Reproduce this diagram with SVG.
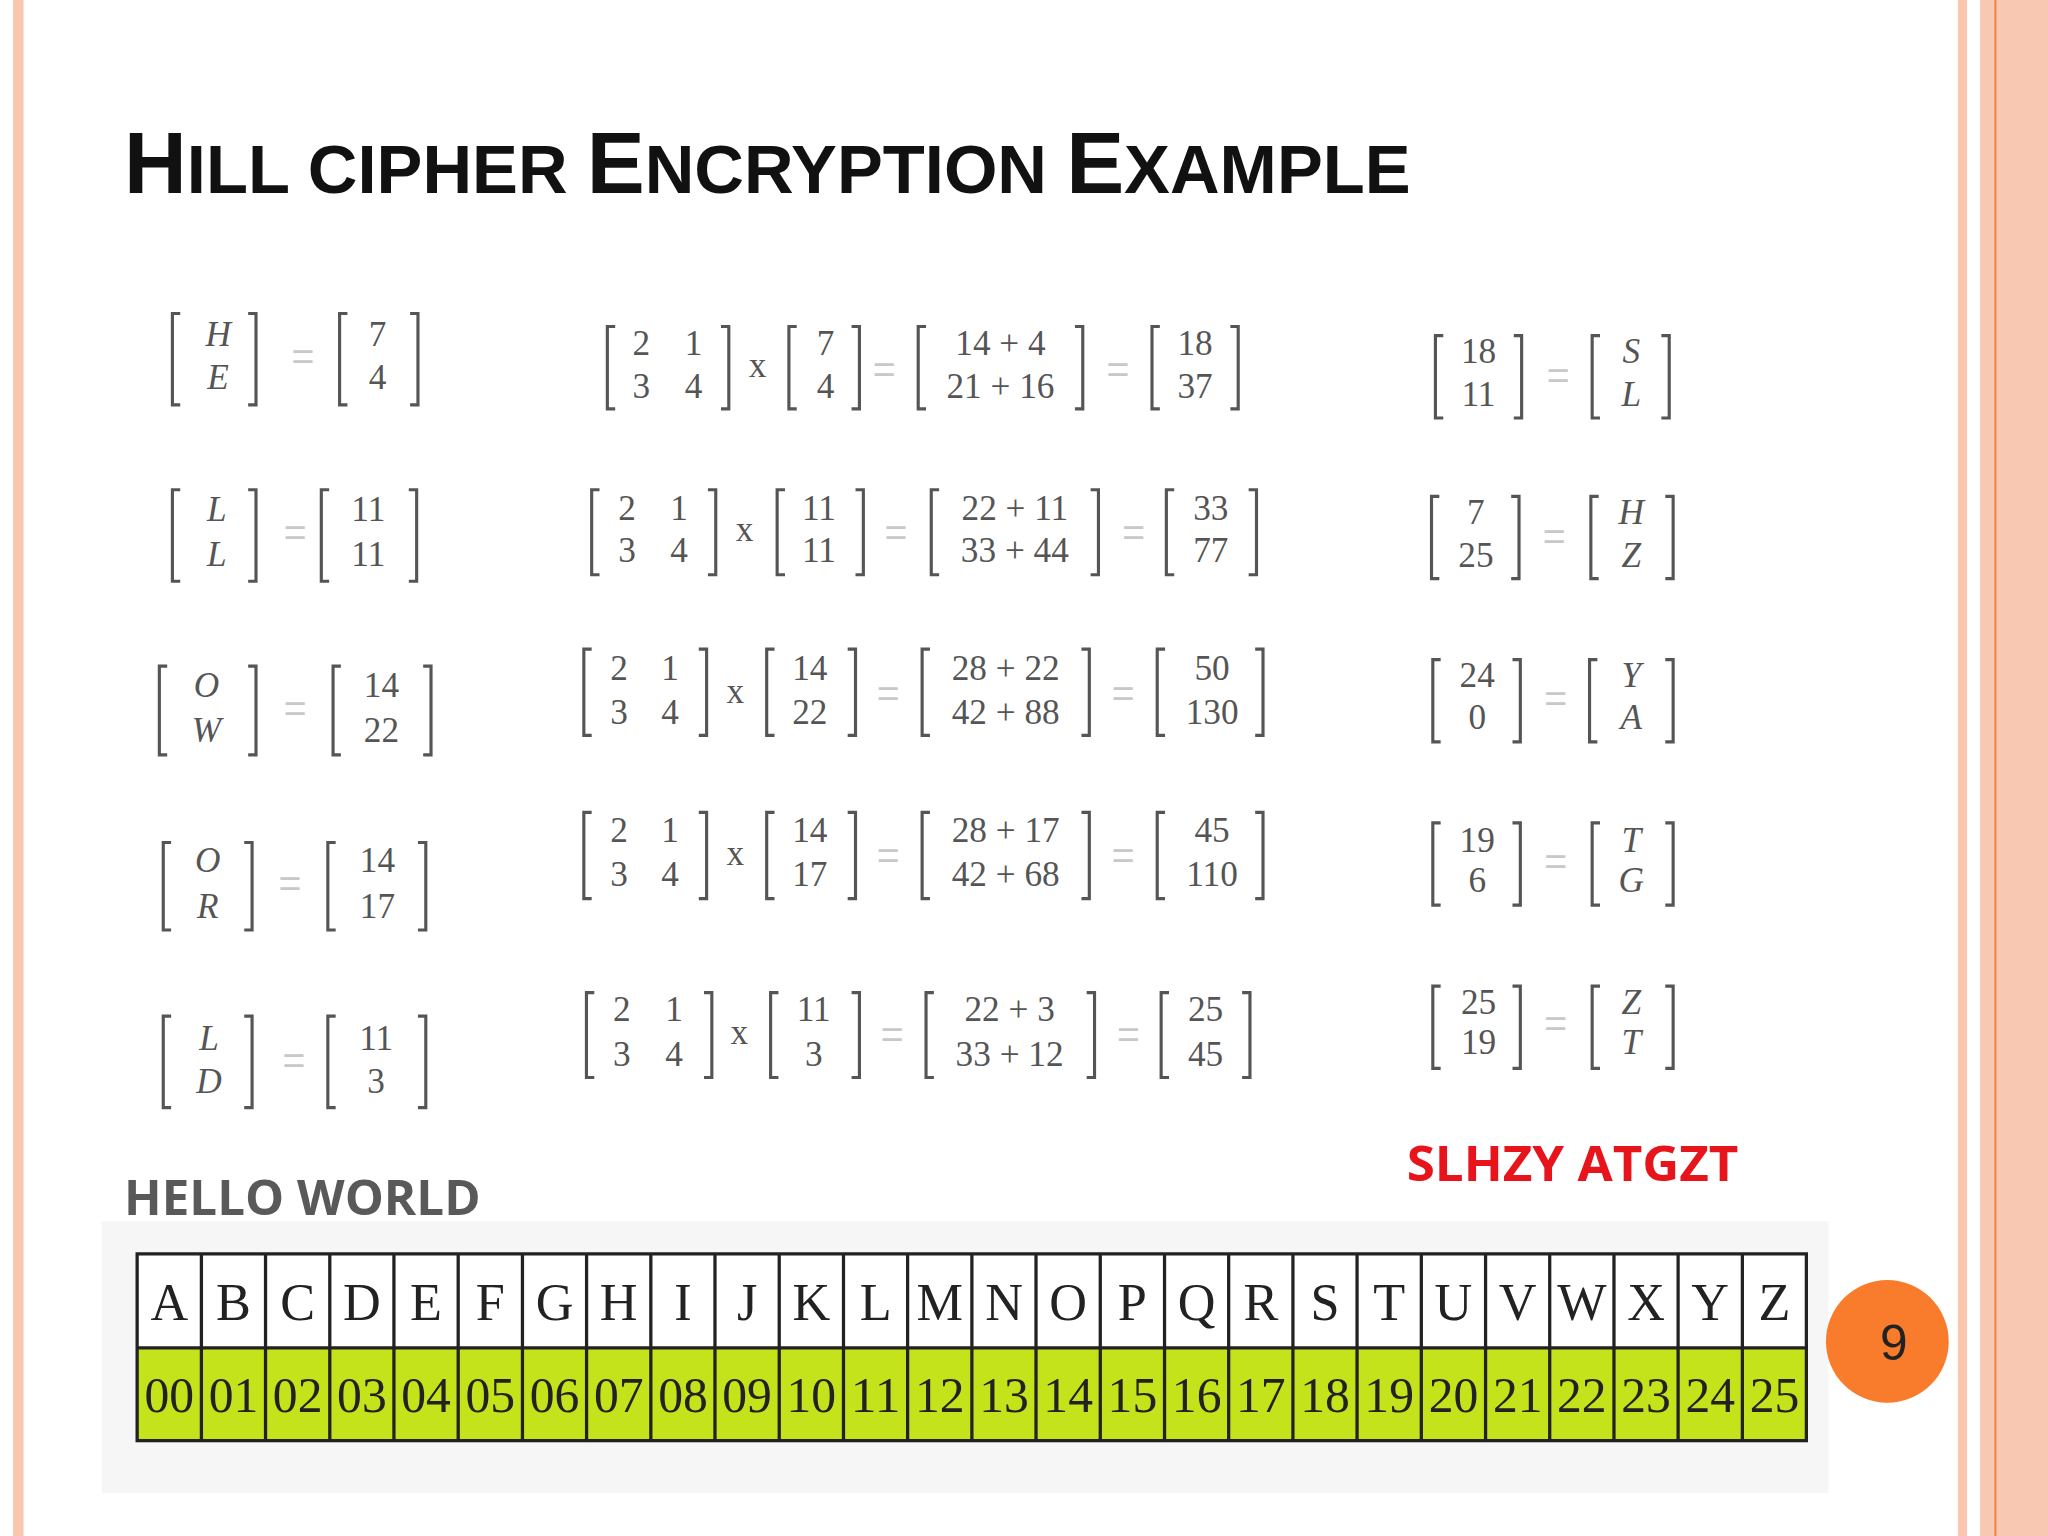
<svg xmlns="http://www.w3.org/2000/svg" width="2048" height="1536" viewBox="0 0 2048 1536">
<style>
.br{fill:none;stroke:#555;stroke-width:2.4}
.m{font-family:"Liberation Serif",serif;font-size:27px;fill:#555;text-anchor:middle}
.i{font-style:italic}
.eq{font-family:"Liberation Sans",sans-serif;font-size:30px;fill:#c8c8c8;text-anchor:middle}
.t{font-family:"Liberation Serif",serif;font-size:40px;fill:#222;text-anchor:middle}
.n{font-family:"Liberation Serif",serif;font-size:38px;fill:#222;text-anchor:middle}
</style>
<rect width="2048" height="1536" fill="#fff"/>
<g transform="scale(1.30612)">
<g id="borders">
<rect x="10" y="0" width="8" height="1176" fill="#f9c6b0"/>
<rect x="1499" y="0" width="7" height="1176" fill="#f9c6b0"/>
<rect x="1516" y="0" width="52" height="1176" fill="#f9c8b2"/>
<rect x="1527" y="0" width="1.5" height="1176" fill="#ee8040"/>
</g>
<g id="title" font-family="Liberation Sans, sans-serif" font-weight="bold" fill="#111">
<text x="95" y="148" font-size="67" textLength="985" lengthAdjust="spacingAndGlyphs">H<tspan font-size="53">ILL CIPHER </tspan>E<tspan font-size="53">NCRYPTION </tspan>E<tspan font-size="53">XAMPLE</tspan></text>
</g>
<g id="matrices">
<!-- row1 -->
<path class="br" d="M138 240H132V310H138M190 240H196V310H190M266 240H260V310H266M314 240H320V310H314"/>
<text class="m i" x="167" y="265">H</text><text class="m i" x="167" y="298">E</text>
<text class="eq" x="232" y="283">=</text>
<text class="m" x="289" y="265">7</text><text class="m" x="289" y="298">4</text>
<path class="br" d="M471 250H465V313H471M552 250H558V313H552M610 250H604V313H610M652 250H658V313H652M709 250H703V313H709M823 250H829V313H823M888 250H882V313H888M942 250H948V313H942"/>
<text class="m" x="491" y="272">2</text><text class="m" x="531" y="272">1</text><text class="m" x="491" y="305">3</text><text class="m" x="531" y="305">4</text>
<text class="m" x="580" y="289" font-size="22">x</text>
<text class="m" x="632" y="272">7</text><text class="m" x="632" y="305">4</text>
<text class="eq" x="677" y="293">=</text>
<text class="m" x="766" y="272">14 + 4</text><text class="m" x="766" y="305">21 + 16</text>
<text class="eq" x="856" y="293">=</text>
<text class="m" x="915" y="272">18</text><text class="m" x="915" y="305">37</text>
<path class="br" d="M1105 257H1099V320H1105M1159 257H1165V320H1159M1225 257H1219V320H1225M1272 257H1278V320H1272"/>
<text class="m" x="1132" y="278">18</text><text class="m" x="1132" y="311">11</text>
<text class="eq" x="1193" y="298">=</text>
<text class="m i" x="1249" y="278">S</text><text class="m i" x="1249" y="311">L</text>
<!-- row2 -->
<path class="br" d="M138 375H132V445H138M190 375H196V445H190M252 375H246V445H252M313 375H319V445H313"/>
<text class="m i" x="166" y="399">L</text><text class="m i" x="166" y="433">L</text>
<text class="eq" x="226" y="418">=</text>
<text class="m" x="282" y="399">11</text><text class="m" x="282" y="433">11</text>
<path class="br" d="M459 375H453V440H459M542 375H548V440H542M601 375H595V440H601M655 375H661V440H655M719 375H713V440H719M835 375H841V440H835M899 375H893V440H899M956 375H962V440H956"/>
<text class="m" x="480" y="398">2</text><text class="m" x="520" y="398">1</text><text class="m" x="480" y="430">3</text><text class="m" x="520" y="430">4</text>
<text class="m" x="570" y="414" font-size="22">x</text>
<text class="m" x="627" y="398">11</text><text class="m" x="627" y="430">11</text>
<text class="eq" x="686" y="418">=</text>
<text class="m" x="777" y="398">22 + 11</text><text class="m" x="777" y="430">33 + 44</text>
<text class="eq" x="868" y="418">=</text>
<text class="m" x="927" y="398">33</text><text class="m" x="927" y="430">77</text>
<path class="br" d="M1102 380H1096V443H1102M1157 380H1163V443H1157M1224 380H1218V443H1224M1275 380H1281V443H1275"/>
<text class="m" x="1130" y="401">7</text><text class="m" x="1130" y="434">25</text>
<text class="eq" x="1190" y="421">=</text>
<text class="m i" x="1249" y="401">H</text><text class="m i" x="1249" y="434">Z</text>
<!-- row3 -->
<path class="br" d="M128 510H122V578H128M190 510H196V578H190M261 510H255V578H261M324 510H330V578H324"/>
<text class="m i" x="158" y="534">O</text><text class="m i" x="158" y="568">W</text>
<text class="eq" x="226" y="553">=</text>
<text class="m" x="292" y="534">14</text><text class="m" x="292" y="568">22</text>
<path class="br" d="M453 497H447V563H453M535 497H541V563H535M593 497H587V563H593M649 497H655V563H649M712 497H706V563H712M828 497H834V563H828M892 497H886V563H892M961 497H967V563H961"/>
<text class="m" x="474" y="521">2</text><text class="m" x="513" y="521">1</text><text class="m" x="474" y="554">3</text><text class="m" x="513" y="554">4</text>
<text class="m" x="563" y="538" font-size="22">x</text>
<text class="m" x="620" y="521">14</text><text class="m" x="620" y="554">22</text>
<text class="eq" x="680" y="541">=</text>
<text class="m" x="770" y="521">28 + 22</text><text class="m" x="770" y="554">42 + 88</text>
<text class="eq" x="860" y="541">=</text>
<text class="m" x="928" y="521">50</text><text class="m" x="928" y="554">130</text>
<path class="br" d="M1103 505H1097V568H1103M1158 505H1164V568H1158M1223 505H1217V568H1223M1275 505H1281V568H1275"/>
<text class="m" x="1131" y="526">24</text><text class="m" x="1131" y="558">0</text>
<text class="eq" x="1191" y="545">=</text>
<text class="m i" x="1249" y="526">Y</text><text class="m i" x="1249" y="558">A</text>
<!-- row4 -->
<path class="br" d="M131 645H125V712H131M187 645H193V712H187M257 645H251V712H257M320 645H326V712H320"/>
<text class="m i" x="159" y="668">O</text><text class="m i" x="159" y="703">R</text>
<text class="eq" x="222" y="687">=</text>
<text class="m" x="289" y="668">14</text><text class="m" x="289" y="703">17</text>
<path class="br" d="M453 622H447V688H453M535 622H541V688H535M593 622H587V688H593M649 622H655V688H649M712 622H706V688H712M828 622H834V688H828M892 622H886V688H892M961 622H967V688H961"/>
<text class="m" x="474" y="645">2</text><text class="m" x="513" y="645">1</text><text class="m" x="474" y="678">3</text><text class="m" x="513" y="678">4</text>
<text class="m" x="563" y="662" font-size="22">x</text>
<text class="m" x="620" y="645">14</text><text class="m" x="620" y="678">17</text>
<text class="eq" x="680" y="665">=</text>
<text class="m" x="770" y="645">28 + 17</text><text class="m" x="770" y="678">42 + 68</text>
<text class="eq" x="860" y="665">=</text>
<text class="m" x="928" y="645">45</text><text class="m" x="928" y="678">110</text>
<path class="br" d="M1103 630H1097V693H1103M1158 630H1164V693H1158M1225 630H1219V693H1225M1275 630H1281V693H1275"/>
<text class="m" x="1131" y="652">19</text><text class="m" x="1131" y="683">6</text>
<text class="eq" x="1191" y="670">=</text>
<text class="m i" x="1249" y="652">T</text><text class="m i" x="1249" y="683">G</text>
<!-- row5 -->
<path class="br" d="M131 778H125V848H131M187 778H193V848H187M257 778H251V848H257M320 778H326V848H320"/>
<text class="m i" x="160" y="804">L</text><text class="m i" x="160" y="837">D</text>
<text class="eq" x="225" y="822">=</text>
<text class="m" x="288" y="804">11</text><text class="m" x="288" y="837">3</text>
<path class="br" d="M455 760H449V825H455M539 760H545V825H539M596 760H590V825H596M652 760H658V825H652M715 760H709V825H715M832 760H838V825H832M895 760H889V825H895M951 760H957V825H951"/>
<text class="m" x="476" y="782">2</text><text class="m" x="516" y="782">1</text><text class="m" x="476" y="816">3</text><text class="m" x="516" y="816">4</text>
<text class="m" x="566" y="799" font-size="22">x</text>
<text class="m" x="623" y="782">11</text><text class="m" x="623" y="816">3</text>
<text class="eq" x="683" y="802">=</text>
<text class="m" x="773" y="782">22 + 3</text><text class="m" x="773" y="816">33 + 12</text>
<text class="eq" x="864" y="802">=</text>
<text class="m" x="923" y="782">25</text><text class="m" x="923" y="816">45</text>
<path class="br" d="M1103 755H1097V818H1103M1158 755H1164V818H1158M1225 755H1219V818H1225M1275 755H1281V818H1275"/>
<text class="m" x="1132" y="776">25</text><text class="m" x="1132" y="807">19</text>
<text class="eq" x="1191" y="794">=</text>
<text class="m i" x="1249" y="776">Z</text><text class="m i" x="1249" y="807">T</text>
</g>
<g id="labels" font-family="Open Sans, Liberation Sans, sans-serif" font-weight="bold" font-size="37">
<text x="95" y="930" fill="#595959" textLength="273" lengthAdjust="spacingAndGlyphs">HELLO WORLD</text>
<text x="1077" y="904" fill="#e8141c" textLength="254" lengthAdjust="spacingAndGlyphs">SLHZY ATGZT</text>
</g>
<g id="table">
<rect x="78" y="935" width="1322" height="208" fill="#f6f6f6"/>
<rect x="105" y="960" width="1278" height="72" fill="#fff"/>
<rect x="105" y="1032" width="1278" height="71" fill="#c5e31a"/>
<g fill="none" stroke="#222" stroke-width="2.5">
<rect x="105" y="960" width="1278" height="143"/>
<line x1="105" y1="1032" x2="1383" y2="1032"/>
<path d="M154.2 960V1103M203.3 960V1103M252.5 960V1103M301.6 960V1103M350.8 960V1103M400 960V1103M449.1 960V1103M498.3 960V1103M547.4 960V1103M596.6 960V1103M645.8 960V1103M694.9 960V1103M744.1 960V1103M793.2 960V1103M842.4 960V1103M891.6 960V1103M940.7 960V1103M989.9 960V1103M1039 960V1103M1088.2 960V1103M1137.4 960V1103M1186.5 960V1103M1235.7 960V1103M1284.8 960V1103M1334 960V1103"/>
</g>
<g class="t">
<text x="129.6" y="1011">A</text><text x="178.8" y="1011">B</text><text x="227.9" y="1011">C</text><text x="277.1" y="1011">D</text><text x="326.2" y="1011">E</text><text x="375.4" y="1011">F</text><text x="424.6" y="1011">G</text><text x="473.7" y="1011">H</text><text x="522.9" y="1011">I</text><text x="572" y="1011">J</text><text x="621.2" y="1011">K</text><text x="670.4" y="1011">L</text><text x="719.5" y="1011">M</text><text x="768.7" y="1011">N</text><text x="817.8" y="1011">O</text><text x="867" y="1011">P</text><text x="916.2" y="1011">Q</text><text x="965.3" y="1011">R</text><text x="1014.5" y="1011">S</text><text x="1063.6" y="1011">T</text><text x="1112.8" y="1011">U</text><text x="1162" y="1011">V</text><text x="1211.1" y="1011">W</text><text x="1260.3" y="1011">X</text><text x="1309.4" y="1011">Y</text><text x="1358.6" y="1011">Z</text>
</g>
<g class="n">
<text x="129.6" y="1081" textLength="38" lengthAdjust="spacingAndGlyphs">00</text><text x="178.8" y="1081" textLength="38" lengthAdjust="spacingAndGlyphs">01</text><text x="227.9" y="1081" textLength="38" lengthAdjust="spacingAndGlyphs">02</text><text x="277.1" y="1081" textLength="38" lengthAdjust="spacingAndGlyphs">03</text><text x="326.2" y="1081" textLength="38" lengthAdjust="spacingAndGlyphs">04</text><text x="375.4" y="1081" textLength="38" lengthAdjust="spacingAndGlyphs">05</text><text x="424.6" y="1081" textLength="38" lengthAdjust="spacingAndGlyphs">06</text><text x="473.7" y="1081" textLength="38" lengthAdjust="spacingAndGlyphs">07</text><text x="522.9" y="1081" textLength="38" lengthAdjust="spacingAndGlyphs">08</text><text x="572" y="1081" textLength="38" lengthAdjust="spacingAndGlyphs">09</text><text x="621.2" y="1081" textLength="38" lengthAdjust="spacingAndGlyphs">10</text><text x="670.4" y="1081" textLength="38" lengthAdjust="spacingAndGlyphs">11</text><text x="719.5" y="1081" textLength="38" lengthAdjust="spacingAndGlyphs">12</text><text x="768.7" y="1081" textLength="38" lengthAdjust="spacingAndGlyphs">13</text><text x="817.8" y="1081" textLength="38" lengthAdjust="spacingAndGlyphs">14</text><text x="867" y="1081" textLength="38" lengthAdjust="spacingAndGlyphs">15</text><text x="916.2" y="1081" textLength="38" lengthAdjust="spacingAndGlyphs">16</text><text x="965.3" y="1081" textLength="38" lengthAdjust="spacingAndGlyphs">17</text><text x="1014.5" y="1081" textLength="38" lengthAdjust="spacingAndGlyphs">18</text><text x="1063.6" y="1081" textLength="38" lengthAdjust="spacingAndGlyphs">19</text><text x="1112.8" y="1081" textLength="38" lengthAdjust="spacingAndGlyphs">20</text><text x="1162" y="1081" textLength="38" lengthAdjust="spacingAndGlyphs">21</text><text x="1211.1" y="1081" textLength="38" lengthAdjust="spacingAndGlyphs">22</text><text x="1260.3" y="1081" textLength="38" lengthAdjust="spacingAndGlyphs">23</text><text x="1309.4" y="1081" textLength="38" lengthAdjust="spacingAndGlyphs">24</text><text x="1358.6" y="1081" textLength="38" lengthAdjust="spacingAndGlyphs">25</text>
</g>
</g>
<g id="page">
<circle cx="1445" cy="1027" r="47" fill="#f97c2c"/>
<text x="1450" y="1041" font-family="Liberation Sans, sans-serif" font-size="38" fill="#222" text-anchor="middle">9</text>
</g>
</g>
</svg>
